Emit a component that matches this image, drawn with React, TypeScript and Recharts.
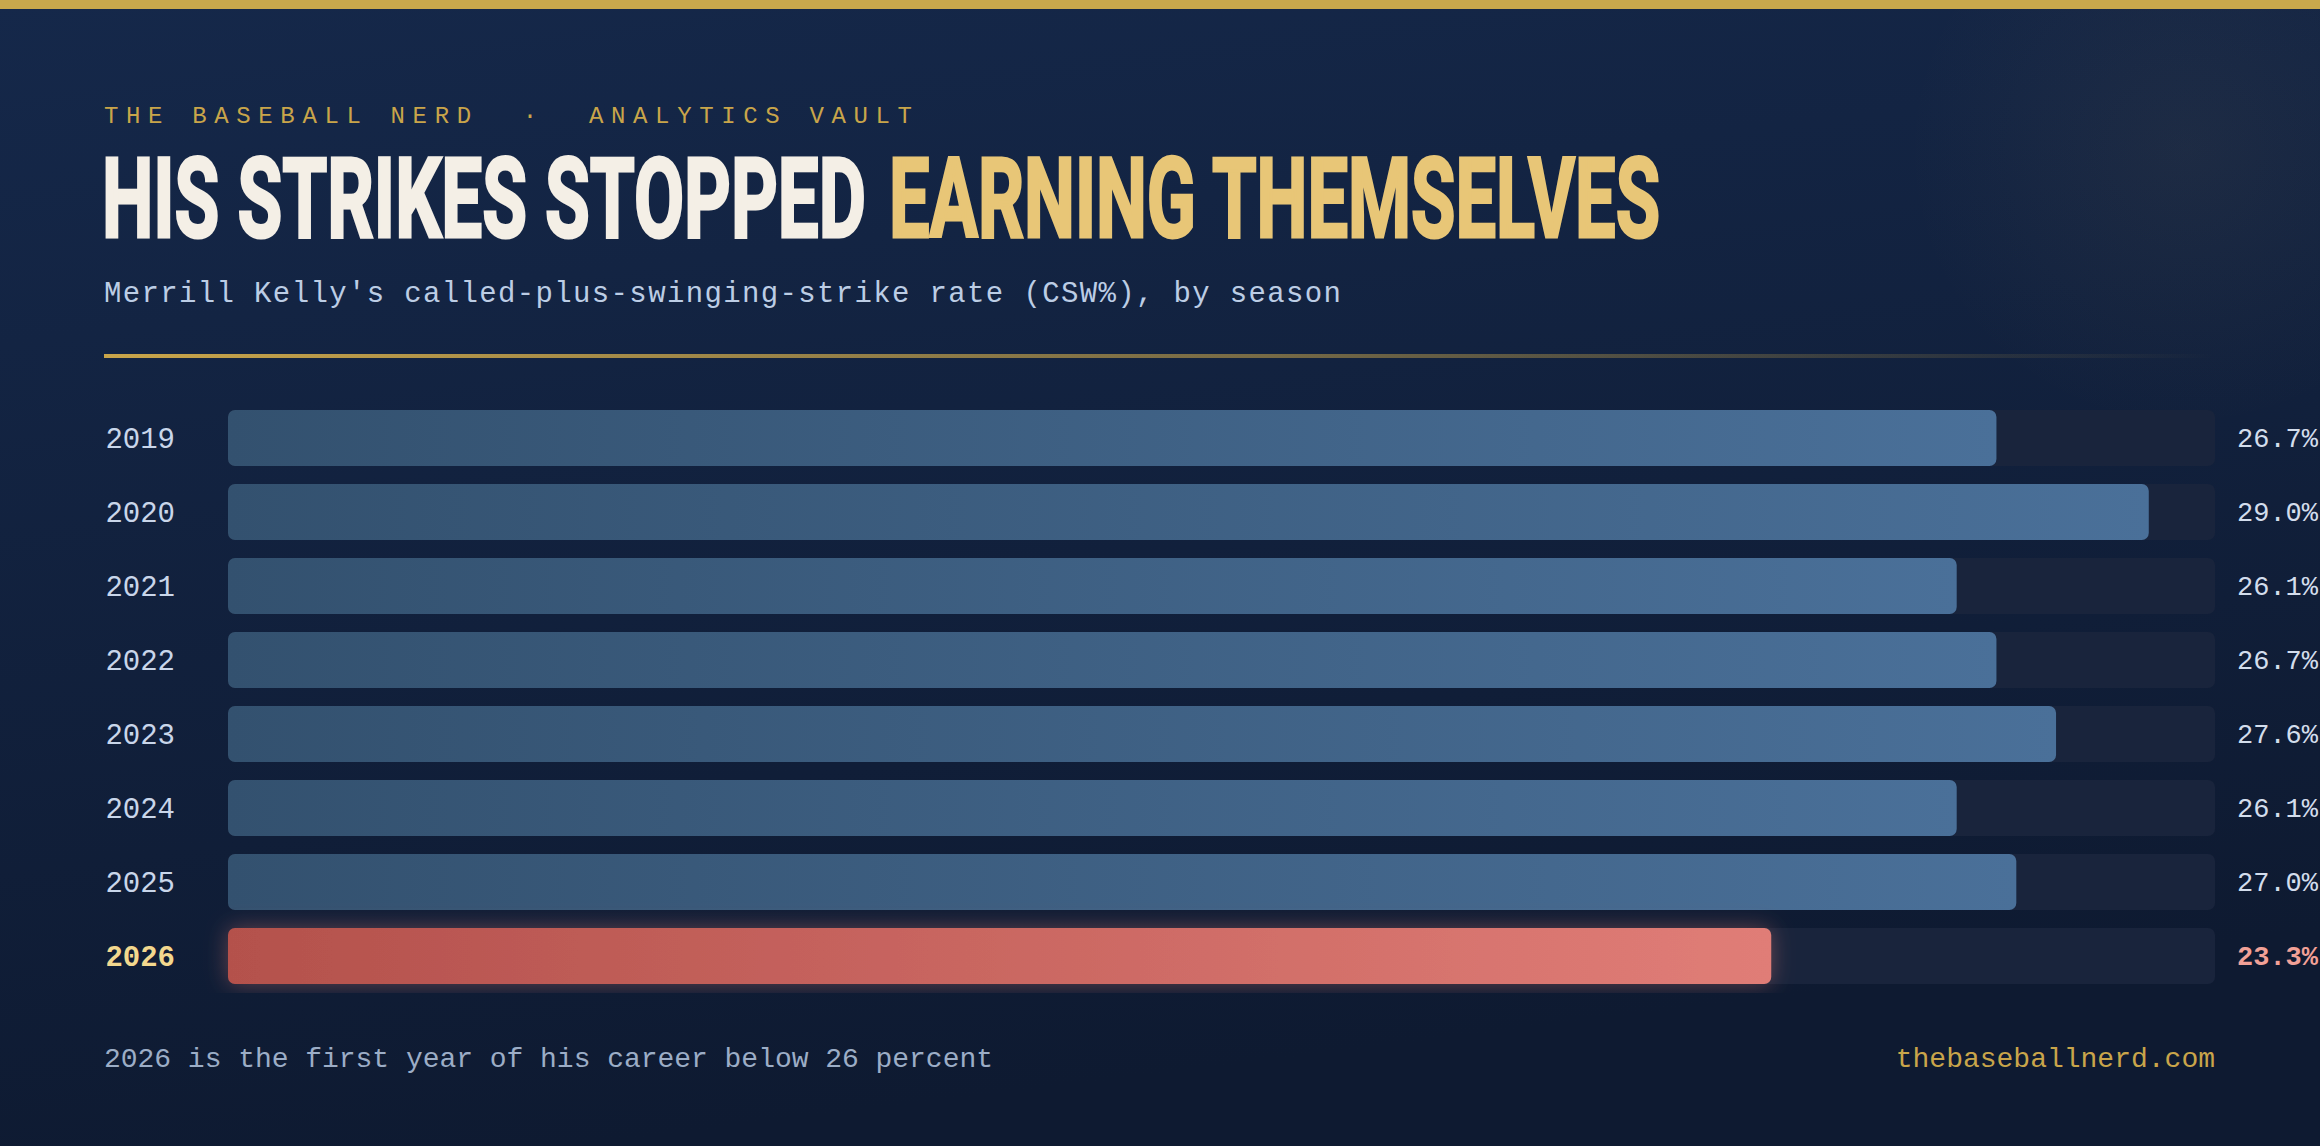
import React, { useLayoutEffect, useRef, useState } from 'react'
import { BarChart, Bar, XAxis, YAxis, Rectangle } from 'recharts'

const YEARS = ['2019', '2020', '2021', '2022', '2023', '2024', '2025', '2026']
const CSW = [26.7, 29.0, 26.1, 26.7, 27.6, 26.1, 27.0, 23.3]
const HIGHLIGHT = '2026'
const X_DOMAIN: [number, number] = [0, 30]

const EYEBROW = 'THE BASEBALL NERD  \u00b7  ANALYTICS VAULT'
const TITLE_A = 'HIS STRIKES STOPPED'
const TITLE_B = 'EARNING THEMSELVES'
const SUBTITLE = "Merrill Kelly's called-plus-swinging-strike rate (CSW%), by season"
const NOTE = '2026 is the first year of his career below 26 percent'
const SITE = 'thebaseballnerd.com'

const MONO = "'Liberation Mono', 'DejaVu Sans Mono', monospace"
const DISPLAY = "Roboto, 'DejaVu Sans', sans-serif"
const W = 2320
const H = 1146

const data = YEARS.map((year, i) => ({ year, csw: CSW[i] }))

function YearTick(props: any) {
  const { x, y, payload } = props
  const hot = payload.value === HIGHLIGHT
  return (
    <text x={x} y={y} dy="0.35em" textAnchor="end" fontFamily={MONO} fontSize={29}
      fontWeight={hot ? 700 : 400} fill={hot ? '#f3d88e' : '#c9d6ea'}>
      {payload.value}
    </text>
  )
}

function ValueTick(props: any) {
  const { x, y, payload } = props
  const hot = payload.value === HIGHLIGHT
  const v = CSW[YEARS.indexOf(payload.value)]
  return (
    <text x={x} y={y} dy="0.35em" textAnchor="start" fontFamily={MONO} fontSize={27}
      fontWeight={hot ? 700 : 400} fill={hot ? '#f2a197' : '#d3ddec'}>
      {v.toFixed(1)}%
    </text>
  )
}

function BarShape(props: any) {
  const hot = props.payload && props.payload.year === HIGHLIGHT
  return (
    <Rectangle {...props} radius={7}
      fill={hot ? 'url(#redBar)' : 'url(#blueBar)'}
      filter={hot ? 'url(#redGlow)' : undefined} />
  )
}

// condensed headline: squeeze a bold face horizontally to the wanted width
function SqueezedText({ x, y, width, color, children }: any) {
  const ref = useRef<SVGTextElement>(null)
  const [sx, setSx] = useState(0.57)
  useLayoutEffect(() => {
    if (ref.current) {
      const len = ref.current.getComputedTextLength()
      if (len > 0) setSx(width / len)
    }
  }, [width])
  return (
    <text ref={ref} x={0} y={0} transform={`translate(${x},${y}) scale(${sx},1)`}
      fontFamily={DISPLAY} fontSize={112} fontWeight={700}
      fill={color} stroke={color} strokeWidth={3}>
      {children}
    </text>
  )
}

function Backdrop() {
  return (
    <svg width={W} height={H} style={{ position: 'absolute', left: 0, top: 0 }}>
      <defs>
        <linearGradient id="bg" x1="0" y1="0" x2="0.25" y2="1">
          <stop offset="0%" stopColor="#15284a" />
          <stop offset="100%" stopColor="#0e1a31" />
        </linearGradient>
        <radialGradient id="glowTR" cx="2185" cy="150" r="280" gradientUnits="userSpaceOnUse">
          <stop offset="0%" stopColor="#c9a86a" stopOpacity={0.06} />
          <stop offset="100%" stopColor="#c9a86a" stopOpacity={0} />
        </radialGradient>
        <linearGradient id="rule" x1="0" y1="0" x2="1" y2="0">
          <stop offset="0%" stopColor="#c9a54a" stopOpacity={1} />
          <stop offset="55%" stopColor="#c9a54a" stopOpacity={0.55} />
          <stop offset="100%" stopColor="#c9a54a" stopOpacity={0} />
        </linearGradient>
      </defs>
      <rect x={0} y={0} width={W} height={H} fill="url(#bg)" />
      <rect x={0} y={0} width={W} height={H} fill="url(#glowTR)" />
      <rect x={0} y={0} width={W} height={9} fill="#c9a84c" />
      <text x={104} y={123} fontFamily={MONO} fontSize={24} fill="#c9a54a"
        textLength={808} lengthAdjust="spacing" style={{ whiteSpace: 'pre' }}>
        {EYEBROW}
      </text>
      <SqueezedText x={102} y={237} width={764} color="#f4efe6">{TITLE_A}</SqueezedText>
      <SqueezedText x={889} y={237} width={771} color="#e8c677">{TITLE_B}</SqueezedText>
      <text x={104} y={302} fontFamily={MONO} fontSize={29} fill="#bccde5"
        textLength={1237} lengthAdjust="spacing">
        {SUBTITLE}
      </text>
      <rect x={104} y={354} width={2111} height={4} fill="url(#rule)" />
      <text x={104} y={1067} fontFamily={MONO} fontSize={28} fill="#9cadc6"
        textLength={889} lengthAdjust="spacing">
        {NOTE}
      </text>
      <text x={2215} y={1067} textAnchor="end" fontFamily={MONO} fontSize={28} fill="#c9a54a">
        {SITE}
      </text>
    </svg>
  )
}

export default function App() {
  return (
    <div style={{ position: 'absolute', left: 0, top: 0, width: W, height: H, overflow: 'hidden' }}>
      <Backdrop />
      <div style={{ position: 'absolute', left: 0, top: 401 }}>
        <BarChart width={W} height={592} data={data} layout="vertical"
          margin={{ top: 0, right: 0, bottom: 0, left: 0 }}>
          <defs>
            <linearGradient id="blueBar" x1="0" y1="0" x2="1" y2="0">
              <stop offset="0%" stopColor="#33516f" />
              <stop offset="100%" stopColor="#4a7099" />
            </linearGradient>
            <linearGradient id="redBar" x1="0" y1="0" x2="1" y2="0">
              <stop offset="0%" stopColor="#b4514c" />
              <stop offset="100%" stopColor="#e07d77" />
            </linearGradient>
            <filter id="redGlow" x="-10%" y="-70%" width="120%" height="240%">
              <feDropShadow dx={0} dy={0} stdDeviation={11} floodColor="#e07a70" floodOpacity={0.4} />
            </filter>
          </defs>
          <XAxis type="number" domain={X_DOMAIN} hide />
          <YAxis yAxisId="left" type="category" dataKey="year" width={228} axisLine={false}
            tickLine={false} tickSize={0} tickMargin={53} tick={YearTick} interval={0} />
          <YAxis yAxisId="right" orientation="right" type="category" dataKey="year" width={105}
            axisLine={false} tickLine={false} tickSize={0} tickMargin={22} tick={ValueTick} interval={0} />
          <Bar yAxisId="left" dataKey="csw" barSize={56} radius={7} shape={BarShape}
            background={{ fill: '#19243c', radius: 7 }} isAnimationActive={false} />
        </BarChart>
      </div>
    </div>
  )
}
